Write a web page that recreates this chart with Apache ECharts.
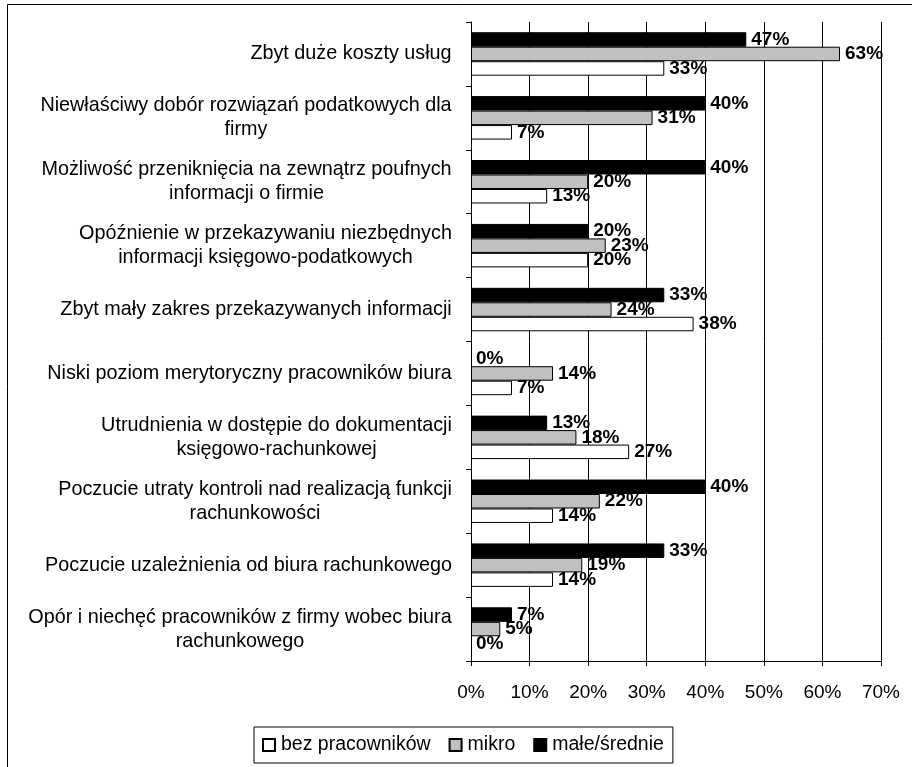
<!DOCTYPE html>
<html>
<head>
<meta charset="utf-8">
<script src="https://cdn.jsdelivr.net/npm/echarts@6/dist/echarts.min.js"></script>
<style>
  html, body { margin: 0; padding: 0; background: #fff; }
  #chart { width: 912px; height: 767px; }
</style>
</head>
<body>
<div id="chart"></div>
<script>
// Categories, listed top to bottom
const categories = [
  'Zbyt duże koszty usług',
  'Niewłaściwy dobór rozwiązań podatkowych dla\nfirmy',
  'Możliwość przeniknięcia na zewnątrz poufnych\ninformacji o firmie',
  'Opóźnienie w przekazywaniu niezbędnych\ninformacji księgowo-podatkowych',
  'Zbyt mały zakres przekazywanych informacji',
  'Niski poziom merytoryczny pracowników biura',
  'Utrudnienia w dostępie do dokumentacji\nksięgowo-rachunkowej',
  'Poczucie utraty kontroli nad realizacją funkcji\nrachunkowości',
  'Poczucie uzależnienia od biura rachunkowego',
  'Opór i niechęć pracowników z firmy wobec biura\nrachunkowego'
];

// Shares (%) per company size
const bezPracownikow = [33, 7, 13, 20, 38, 7, 27, 14, 14, 0];
const mikro          = [63, 31, 20, 23, 24, 14, 18, 22, 19, 5];
const maleSrednie    = [47, 40, 40, 20, 33, 0, 13, 40, 33, 7];

const xTicks = { min: 0, max: 70, step: 10 };

const FONT = '"Liberation Sans", Arial, sans-serif';
const CAT_SIZE = 19.8;

// Each category label is a right-aligned block whose lines are centred
// within the width of its longest line.
const measureCtx = document.createElement('canvas').getContext('2d');
measureCtx.font = CAT_SIZE + 'px ' + FONT;
const catRich = {};
categories.forEach(function (c, i) {
  const w = Math.max.apply(null, c.split('\n').map(function (l) {
    return Math.ceil(measureCtx.measureText(l).width);
  }));
  catRich['c' + i] = {
    width: w, align: 'center', fontSize: CAT_SIZE, lineHeight: 24,
    color: '#000', fontFamily: FONT
  };
});
function catFormatter(value) {
  const i = categories.indexOf(value);
  return value.split('\n').map(function (l) { return '{c' + i + '|' + l + '}'; }).join('\n');
}

function barSeries(name, data, fill) {
  return {
    name: name,
    type: 'bar',
    data: data.map(function (v) {
      // zero-length bars carry no outline
      return v === 0 ? { value: v, itemStyle: { borderWidth: 0 } } : v;
    }),
    barGap: '0%',
    barCategoryGap: '32%',
    itemStyle: { color: fill, borderColor: '#000', borderWidth: 1 },
    label: {
      show: true,
      position: 'right',
      distance: 5,
      formatter: '{c}%',
      fontFamily: FONT,
      fontSize: 19,
      fontWeight: 'bold',
      color: '#000'
    },
    emphasis: { disabled: true }
  };
}

const chart = echarts.init(document.getElementById('chart'), null, { renderer: 'canvas' });

chart.setOption({
  animation: false,
  backgroundColor: '#fff',
  textStyle: { fontFamily: FONT },
  graphic: [{
    type: 'rect',
    shape: { x: 7.5, y: 4.5, width: 1000, height: 900 },
    style: { fill: 'none', stroke: '#000', lineWidth: 1 },
    silent: true,
    z: -1
  }],
  grid: { left: 471, right: 31, top: 22, bottom: 106, containLabel: false },
  legend: {
    top: 727,
    left: 254,
    data: ['bez pracowników', 'mikro', 'małe/średnie'],
    icon: 'rect',
    itemWidth: 12,
    itemHeight: 12,
    itemGap: 18,
    padding: [8, 9, 8, 8],
    borderColor: '#000',
    borderWidth: 1,
    textStyle: { fontFamily: FONT, fontSize: 19.5, color: '#000', padding: [0, 0, 0, 1] },
    selectedMode: false
  },
  xAxis: {
    type: 'value',
    min: xTicks.min,
    max: xTicks.max,
    interval: xTicks.step,
    axisLine: { show: true, lineStyle: { color: '#000', width: 1 } },
    axisTick: { show: true, length: 5, lineStyle: { color: '#000' } },
    axisLabel: { formatter: '{value}%', fontSize: 19, color: '#000', margin: 22, fontFamily: FONT },
    splitLine: { show: true, lineStyle: { color: '#000', width: 1 } }
  },
  yAxis: {
    type: 'category',
    inverse: true,
    data: categories,
    axisLine: { show: true, lineStyle: { color: '#000', width: 1 } },
    axisTick: { show: true, length: 5, lineStyle: { color: '#000' } },
    axisLabel: {
      formatter: catFormatter,
      rich: catRich,
      fontSize: CAT_SIZE,
      color: '#000',
      margin: 19,
      align: 'right',
      fontFamily: FONT
    },
    splitLine: { show: false }
  },
  series: [
    barSeries('małe/średnie', maleSrednie, '#000000'),
    barSeries('mikro', mikro, '#c0c0c0'),
    barSeries('bez pracowników', bezPracownikow, '#ffffff')
  ]
});
</script>
</body>
</html>
